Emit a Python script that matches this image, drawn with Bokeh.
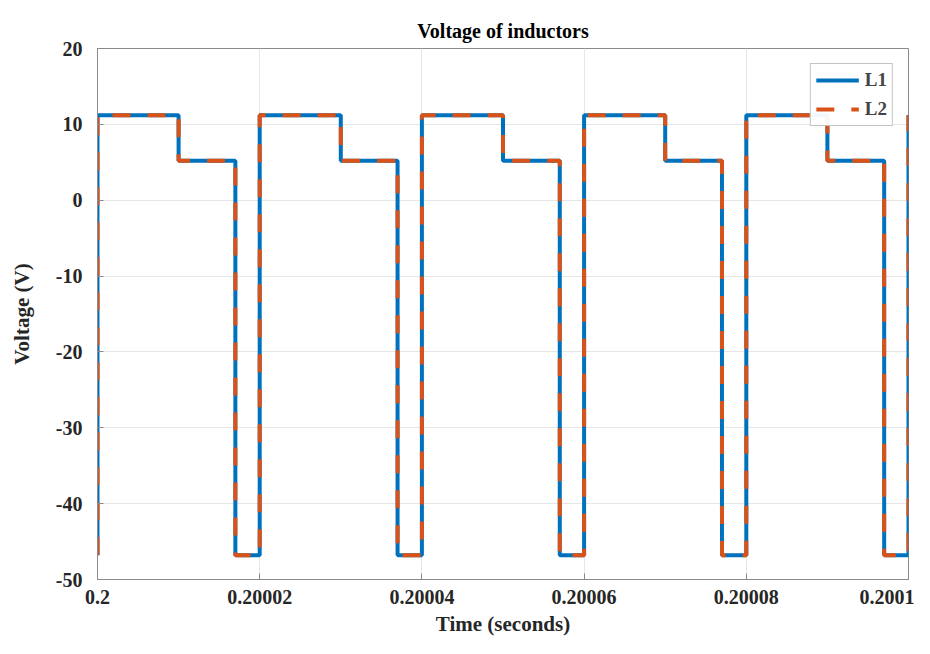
from bokeh.plotting import figure
from bokeh.models import FixedTicker, Legend, LegendItem, Range1d
from bokeh.embed import file_html
from bokeh.resources import INLINE

# Switching instants (seconds) and the level held after each instant
t_switch = [0.2, 0.2, 0.20001, 0.200017,
            0.20002, 0.20003, 0.200037,
            0.20004, 0.20005, 0.200057,
            0.20006, 0.20007, 0.200077,
            0.20008, 0.20009, 0.200097,
            0.2001]
v_L1 = [-46.8, 11.2, 5.2, -46.8,
        11.2, 5.2, -46.8,
        11.2, 5.2, -46.8,
        11.2, 5.2, -46.8,
        11.2, 5.2, -46.8,
        11.2]
v_L2 = [-46.8, 11.2, 5.2, -46.8,
        11.2, 5.2, -46.8,
        11.2, 5.2, -46.8,
        11.2, 5.2, -46.8,
        11.2, 5.2, -46.8,
        11.2]

x_ticks = [0.2, 0.20002, 0.20004, 0.20006, 0.20008, 0.2001]
x_tick_labels = ["0.2", "0.20002", "0.20004", "0.20006", "0.20008", "0.2001"]
y_ticks = [-50, -40, -30, -20, -10, 0, 10, 20]
y_tick_labels = ["-50", "-40", "-30", "-20", "-10", "0", "10", "20"]

FONT = "Liberation Serif"
AX = "#8a8a8a"

p = figure(width=914, height=638, output_backend="svg", toolbar_location=None,
           x_range=Range1d(0.2, 0.2001), y_range=Range1d(-50, 20),
           min_border_left=97, min_border_right=6, min_border_top=48,
           min_border_bottom=58)

p.title.text = "Voltage of inductors"
p.title.align = "center"
p.title.vertical_align = "top"
p.title.text_font = FONT
p.title.text_font_size = "20px"
p.title.text_font_style = "bold"
p.title.text_color = "#000000"
p.title.offset = 4
p.title.standoff = 10

r1 = p.step(t_switch, v_L1, mode="after", line_color="#0072BD", line_width=4)
r2 = p.step(t_switch, v_L2, mode="after", line_color="#D95319", line_width=4,
            line_dash="18 17")

p.xaxis.ticker = FixedTicker(ticks=x_ticks)
p.xaxis.major_label_overrides = {t: l for t, l in zip(x_ticks, x_tick_labels)}
p.yaxis.ticker = FixedTicker(ticks=y_ticks)
p.yaxis.major_label_overrides = {t: l for t, l in zip(y_ticks, y_tick_labels)}

for ax in (p.xaxis, p.yaxis):
    ax.axis_line_color = AX
    ax.major_tick_line_color = AX
    ax.major_tick_in = 6
    ax.major_tick_out = 0
    ax.minor_tick_line_color = None
    ax.major_label_text_font = FONT
    ax.major_label_text_font_size = "20px"
    ax.major_label_text_font_style = "bold"
    ax.major_label_text_color = "#262626"
    ax.axis_label_text_font = FONT
    ax.axis_label_text_font_size = "21px"
    ax.axis_label_text_font_style = "bold"
    ax.axis_label_text_color = "#262626"

p.xaxis.axis_label = "Time (seconds)"
p.yaxis.axis_label = "Voltage (V)"
p.xaxis.major_label_standoff = 10
p.xaxis.axis_label_standoff = 5
p.yaxis.major_label_standoff = 15
p.yaxis.axis_label_standoff = 19

p.xgrid.grid_line_color = "#e6e6e6"
p.ygrid.grid_line_color = "#e6e6e6"
p.outline_line_color = AX
p.outline_line_alpha = 1.0

legend = Legend(items=[LegendItem(label="L1", renderers=[r1]),
                       LegendItem(label="L2", renderers=[r2])],
                location="top_right")
legend.margin = 15
legend.label_text_font = FONT
legend.label_text_font_size = "19px"
legend.label_text_font_style = "bold"
legend.glyph_width = 43
legend.glyph_height = 20
legend.spacing = 7
legend.padding = 5
legend.label_standoff = 6
legend.label_width = 22
legend.border_line_color = "#8a8a8a"
legend.background_fill_color = "white"
p.add_layout(legend)

open("out.html", "w").write(file_html(p, INLINE))
